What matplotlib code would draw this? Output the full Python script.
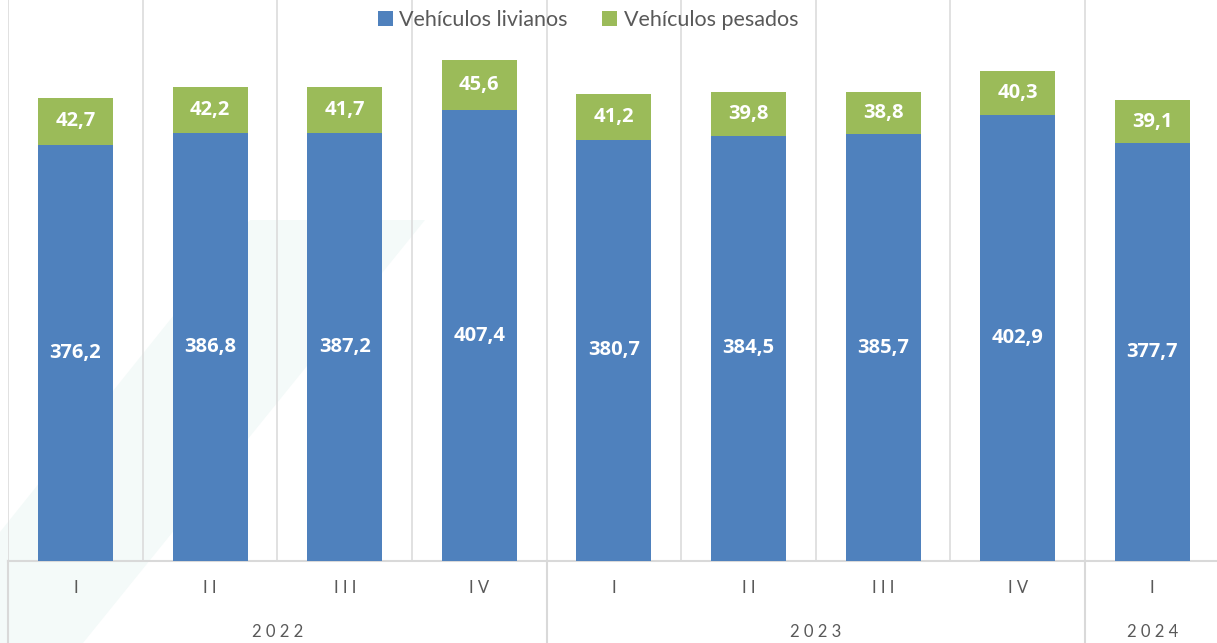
import matplotlib
matplotlib.use("Agg")
import matplotlib.pyplot as plt
from matplotlib.patches import Polygon, Patch
import numpy as np

plt.rcParams['font.family'] = ['Lato', 'DejaVu Sans']

quarters = ["I", "II", "III", "IV", "I", "II", "III", "IV", "I"]
years = ["2022", "2023", "2024"]
year_counts = [4, 4, 1]
livianos = [376.2, 386.8, 387.2, 407.4, 380.7, 384.5, 385.7, 402.9, 377.7]
pesados = [42.7, 42.2, 41.7, 45.6, 41.2, 39.8, 38.8, 40.3, 39.1]
series_names = ["Vehículos livianos", "Vehículos pesados"]

BLUE = "#4F81BD"
GREEN = "#9BBB59"
GRID = "#D9D9D9"
TXT = "#595959"

W, H = 1217, 643
fig = plt.figure(figsize=(W / 100, H / 100), dpi=100)

step = 134.6
left_px = 8.2
base_px = 561
ax = fig.add_axes([left_px / W, (H - base_px) / H, 9 * step / W, base_px / H])
ax.set_facecolor("none")

# faint watermark band (behind bars and gridlines)
band = Polygon([(250 / W, 1 - 220 / H), (425 / W, 1 - 220 / H), (83 / W, 0), (0, 0), (0, 1 - 532 / H)],
               closed=True, transform=fig.transFigure, facecolor="#F4FAF9", edgecolor="none",
               zorder=0.5, clip_on=False)
ax.add_patch(band)

x = np.arange(len(quarters))
bw = 75 / step
ax.bar(x, livianos, width=bw, color=BLUE, zorder=3)
ax.bar(x, pesados, bottom=livianos, width=bw, color=GREEN, zorder=3)

px_per_unit = 1.106
ax.set_ylim(0, base_px / px_per_unit)
ax.set_xlim(-0.5, len(quarters) - 0.5)

lab_font = dict(family=['Open Sans', 'DejaVu Sans'], fontsize=14.5, fontweight="bold", color="white")
for xi, l, p in zip(x, livianos, pesados):
    ax.text(xi, l / 2, f"{l:.1f}".replace(".", ","), ha="center", va="center", zorder=4, **lab_font)
    ax.text(xi, l + p / 2, f"{p:.1f}".replace(".", ","), ha="center", va="center", zorder=4, **lab_font)

# vertical gridlines between categories
for g in np.arange(-0.5, len(quarters), 1.0):
    ax.axvline(g, color=GRID, lw=1.1, zorder=1)
ax.axhline(0, color=GRID, lw=1.5, zorder=2, clip_on=False)

for s in ax.spines.values():
    s.set_visible(False)
ax.set_xticks([])
ax.set_yticks([])

trans = matplotlib.transforms.blended_transform_factory(ax.transData, ax.transAxes)
below = 82 / base_px
for xi, q in zip(x, quarters):
    ax.text(xi, -27 / base_px, " ".join(q), ha="center", va="center", transform=trans,
            fontsize=12, color=TXT)
start = 0
seps = [-0.5]
for yname, cnt in zip(years, year_counts):
    center = start + (cnt - 1) / 2
    ax.text(center, -71 / base_px, " ".join(yname), ha="center", va="center", transform=trans,
            fontsize=12, color=TXT)
    start += cnt
    seps.append(start - 0.5)
for sx in seps:
    ax.plot([sx, sx], [0, -below], transform=trans, color=GRID, lw=1.5, clip_on=False, zorder=2)

handles = [Patch(facecolor=BLUE, edgecolor="none"), Patch(facecolor=GREEN, edgecolor="none")]
fig.legend(handles, series_names, loc="center", bbox_to_anchor=(588 / W, 1 - 20 / H), ncol=2,
           frameon=False, fontsize=15.5, handlelength=0.7, handleheight=0.7, handletextpad=0.3,
           columnspacing=1.6, labelcolor=TXT)

fig.savefig("out.png", dpi=100, facecolor="white")
